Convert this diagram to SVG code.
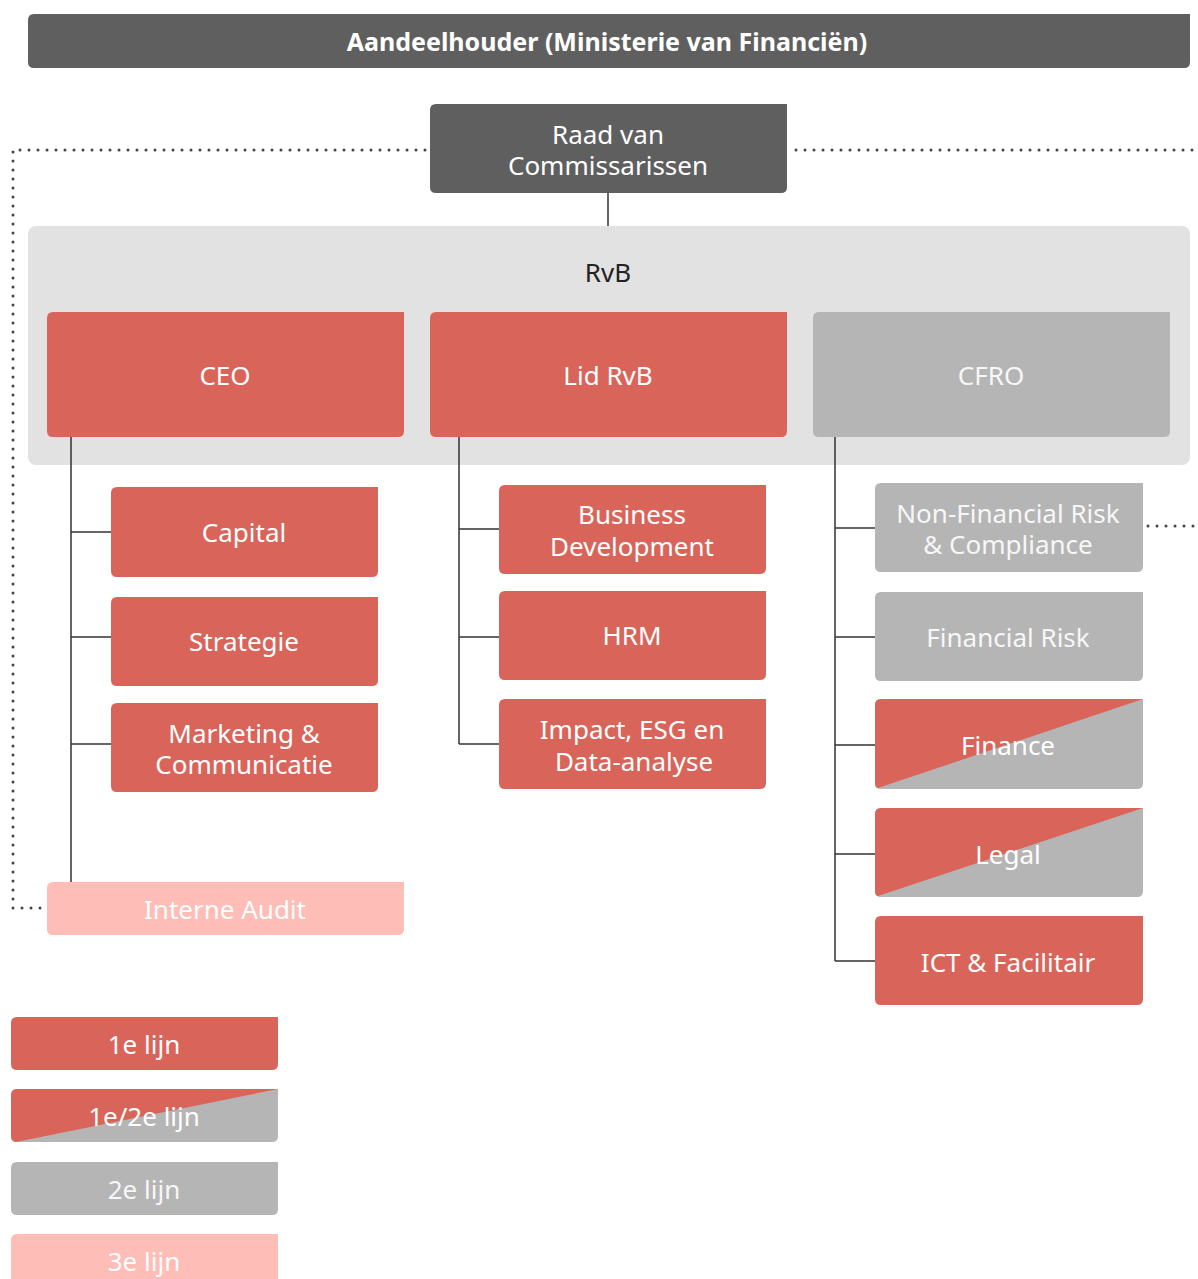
<svg xmlns="http://www.w3.org/2000/svg" width="1198" height="1279" viewBox="0 0 1198 1279">
<style>
text{font-family:"Noto Sans","Open Sans",sans-serif;font-size:26px;text-anchor:middle;fill:#ffffff}
.title{font-weight:bold;font-size:25px}
.dark{fill:#5f5f5f}
.red{fill:#d9655a}
.grey{fill:#b5b5b5}
.pink{fill:#ffbdb7}
.gtxt{fill:#f7f7f7}
.rvb{fill:#222222}
.conn{stroke:#333333;stroke-width:1.5;fill:none}
.dot{stroke:#444444;stroke-width:3;stroke-linecap:round;stroke-dasharray:0 9;fill:none}
</style>
<defs>
<clipPath id="cf"><path d="M881,699 H1143 V783 Q1143,789 1137,789 H881 Q875,789 875,783 V705 Q875,699 881,699 Z"/></clipPath>
<clipPath id="cl"><path d="M881,808 H1143 V891 Q1143,897 1137,897 H881 Q875,897 875,891 V814 Q875,808 881,808 Z"/></clipPath>
<clipPath id="cg"><path d="M17,1089 H278 V1136 Q278,1142 272,1142 H17 Q11,1142 11,1136 V1095 Q11,1089 17,1089 Z"/></clipPath>
</defs>

<g id="container-rvb">
<rect x="28" y="226" width="1162" height="239" rx="8" fill="#e2e2e2"/>
<text x="608" y="282" class="rvb">RvB</text>
</g>

<g id="connectors">
<path class="conn" d="M608,193 V226"/>
<path class="conn" d="M71,437 V882 M71,532 H111 M71,637 H111 M71,744 H111"/>
<path class="conn" d="M459,437 V744 M459,529 H499 M459,637 H499 M459,744 H499"/>
<path class="conn" d="M835,437 V961 M835,528 H875 M835,637 H875 M835,745 H875 M835,854 H875 M835,961 H875"/>
<path class="dot" d="M425,150 H13 V908 H44"/>
<path class="dot" d="M796,150 H1198"/>
<path class="dot" d="M1148,526 H1198"/>
</g>

<g id="aandeelhouder">
<path class="dark" d="M34,14 H1190 V62 Q1190,68 1184,68 H34 Q28,68 28,62 V20 Q28,14 34,14 Z"/>
<text x="607" y="51" class="title">Aandeelhouder (Ministerie van Financiën)</text>
</g>

<g id="rvc">
<path class="dark" d="M436,104 H787 V187 Q787,193 781,193 H436 Q430,193 430,187 V110 Q430,104 436,104 Z"/>
<text x="608" y="144">Raad van<tspan x="608" dy="31">Commissarissen</tspan></text>
</g>

<g id="ceo">
<path class="red" d="M53,312 H404 V431 Q404,437 398,437 H53 Q47,437 47,431 V318 Q47,312 53,312 Z"/>
<text x="225" y="385">CEO</text>
</g>
<g id="lid-rvb">
<path class="red" d="M436,312 H787 V431 Q787,437 781,437 H436 Q430,437 430,431 V318 Q430,312 436,312 Z"/>
<text x="608" y="385">Lid RvB</text>
</g>
<g id="cfro">
<path class="grey" d="M819,312 H1170 V431 Q1170,437 1164,437 H819 Q813,437 813,431 V318 Q813,312 819,312 Z"/>
<text x="991" y="385" class="gtxt">CFRO</text>
</g>

<g id="capital">
<path class="red" d="M117,487 H378 V571 Q378,577 372,577 H117 Q111,577 111,571 V493 Q111,487 117,487 Z"/>
<text x="244" y="542">Capital</text>
</g>
<g id="strategie">
<path class="red" d="M117,597 H378 V680 Q378,686 372,686 H117 Q111,686 111,680 V603 Q111,597 117,597 Z"/>
<text x="244" y="651">Strategie</text>
</g>
<g id="marketing">
<path class="red" d="M117,703 H378 V786 Q378,792 372,792 H117 Q111,792 111,786 V709 Q111,703 117,703 Z"/>
<text x="244" y="743">Marketing &amp;<tspan x="244" dy="31">Communicatie</tspan></text>
</g>
<g id="interne-audit">
<path class="pink" d="M53,882 H404 V929 Q404,935 398,935 H53 Q47,935 47,929 V888 Q47,882 53,882 Z"/>
<text x="225" y="919">Interne Audit</text>
</g>

<g id="business-development">
<path class="red" d="M505,485 H766 V568 Q766,574 760,574 H505 Q499,574 499,568 V491 Q499,485 505,485 Z"/>
<text x="632" y="524">Business<tspan x="632" dy="32">Development</tspan></text>
</g>
<g id="hrm">
<path class="red" d="M505,591 H766 V674 Q766,680 760,680 H505 Q499,680 499,674 V597 Q499,591 505,591 Z"/>
<text x="632" y="645">HRM</text>
</g>
<g id="impact">
<path class="red" d="M505,699 H766 V783 Q766,789 760,789 H505 Q499,789 499,783 V705 Q499,699 505,699 Z"/>
<text x="632" y="739">Impact, ESG en<tspan x="634" dy="32">Data-analyse</tspan></text>
</g>

<g id="nfr">
<path class="grey" d="M881,483 H1143 V566 Q1143,572 1137,572 H881 Q875,572 875,566 V489 Q875,483 881,483 Z"/>
<text x="1008" y="523" class="gtxt">Non-Financial Risk<tspan x="1008" dy="31">&amp; Compliance</tspan></text>
</g>
<g id="financial-risk">
<path class="grey" d="M881,592 H1143 V675 Q1143,681 1137,681 H881 Q875,681 875,675 V598 Q875,592 881,592 Z"/>
<text x="1008" y="647" class="gtxt">Financial Risk</text>
</g>
<g id="finance">
<g clip-path="url(#cf)">
<rect x="875" y="699" width="268" height="90" class="grey"/>
<polygon points="875,699 1143,699 875,789" class="red"/>
</g>
<text x="1008" y="755">Finance</text>
</g>
<g id="legal">
<g clip-path="url(#cl)">
<rect x="875" y="808" width="268" height="89" class="grey"/>
<polygon points="875,808 1143,808 875,897" class="red"/>
</g>
<text x="1008" y="864">Legal</text>
</g>
<g id="ict">
<path class="red" d="M881,916 H1143 V999 Q1143,1005 1137,1005 H881 Q875,1005 875,999 V922 Q875,916 881,916 Z"/>
<text x="1008" y="972">ICT &amp; Facilitair</text>
</g>

<g id="legend-1e">
<path class="red" d="M17,1017 H278 V1064 Q278,1070 272,1070 H17 Q11,1070 11,1064 V1023 Q11,1017 17,1017 Z"/>
<text x="144" y="1054">1e lijn</text>
</g>
<g id="legend-1e2e">
<g clip-path="url(#cg)">
<rect x="11" y="1089" width="267" height="53" class="grey"/>
<polygon points="11,1089 278,1089 16,1142 11,1142" class="red"/>
</g>
<text x="144" y="1126">1e/2e lijn</text>
</g>
<g id="legend-2e">
<path class="grey" d="M17,1162 H278 V1209 Q278,1215 272,1215 H17 Q11,1215 11,1209 V1168 Q11,1162 17,1162 Z"/>
<text x="144" y="1199" class="gtxt">2e lijn</text>
</g>
<g id="legend-3e">
<path class="pink" d="M17,1234 H278 V1290 H11 V1240 Q11,1234 17,1234 Z"/>
<text x="144" y="1271">3e lijn</text>
</g>
</svg>
